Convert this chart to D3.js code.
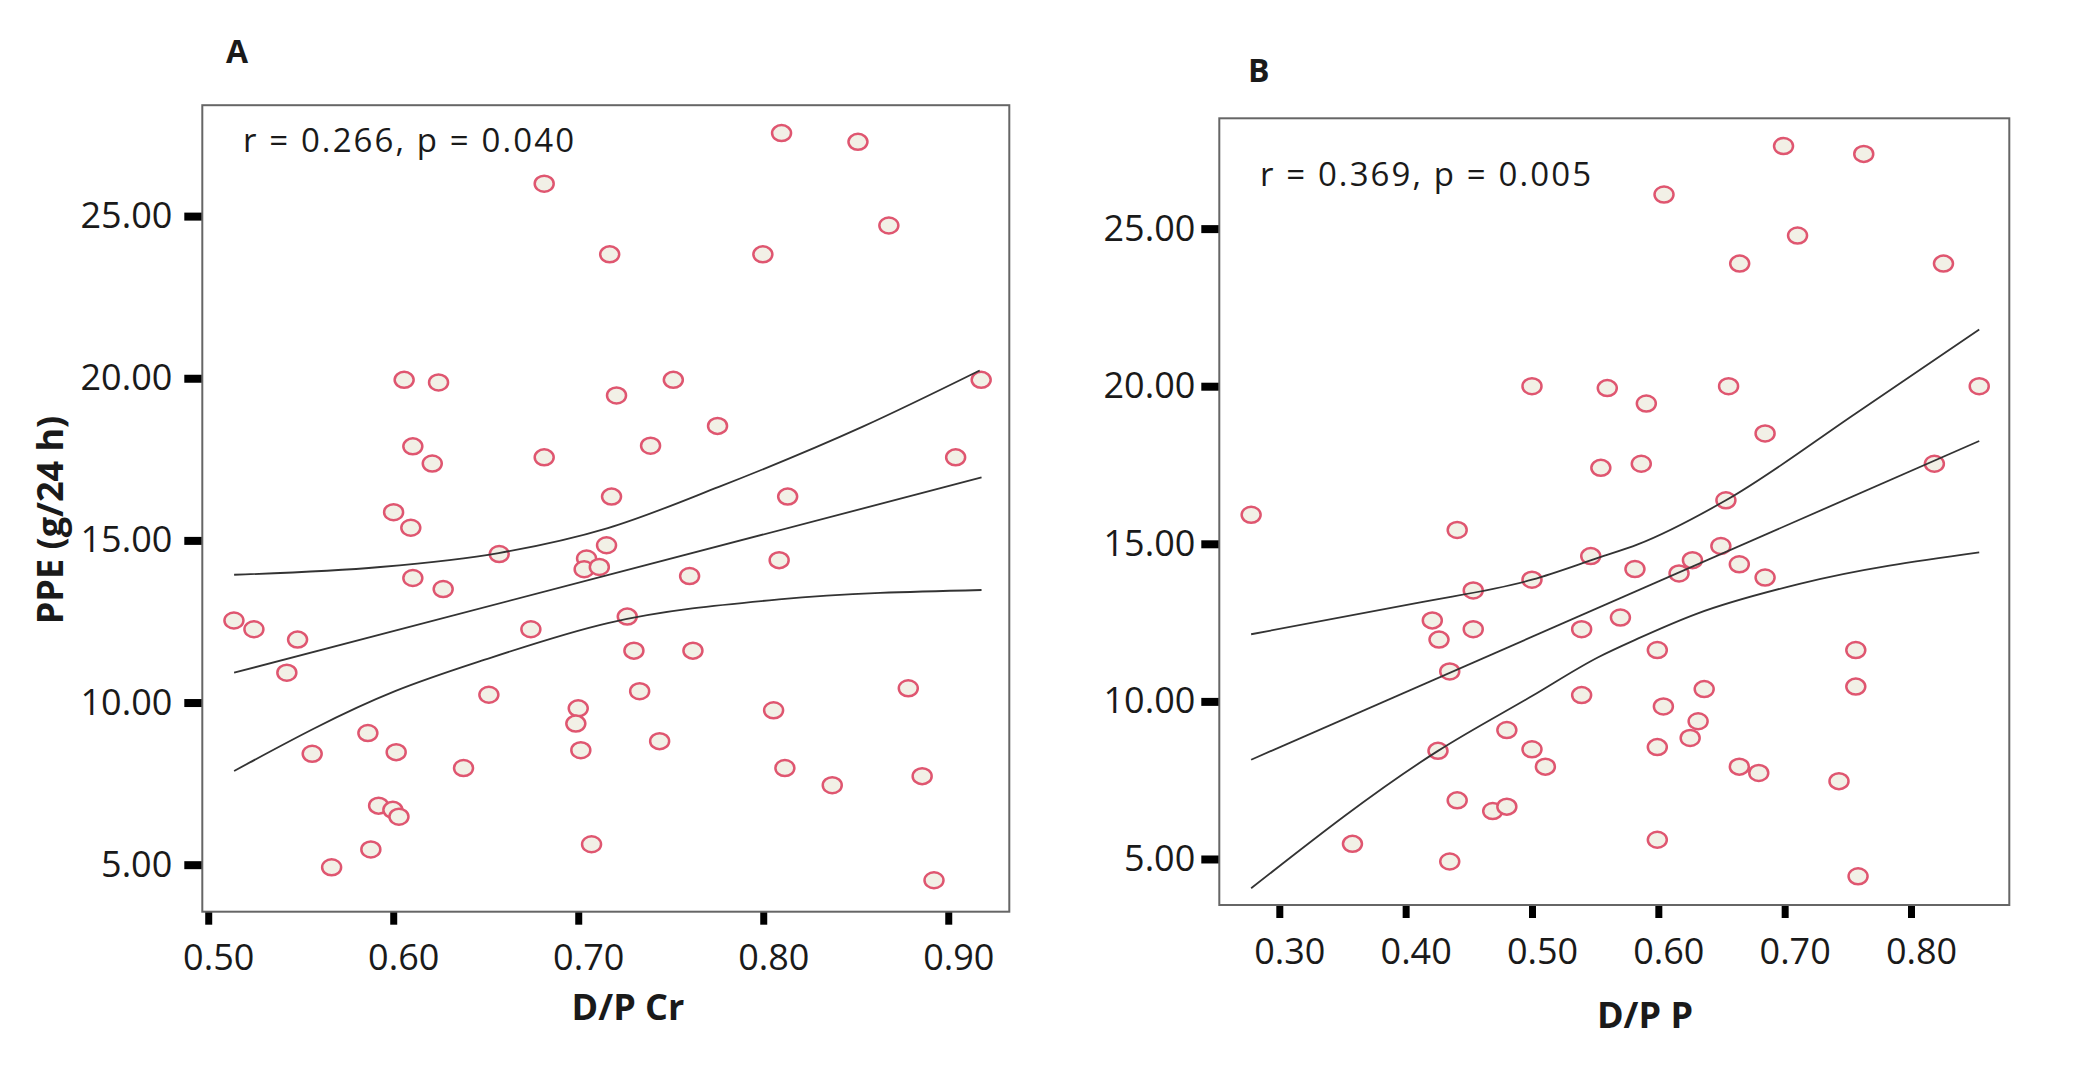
<!DOCTYPE html>
<html>
<head>
<meta charset="utf-8">
<script src="https://cdn.jsdelivr.net/npm/d3@7"></script>
<style>
  body { margin: 0; background: #fff; }
  text { font-family: "Open Sans", "Noto Sans", sans-serif; fill: #1a1a1a; }
</style>
</head>
<body>
<svg width="2096" height="1067"></svg>
<script>
// ---- panel A : D/P Cr vs PPE ----
var dpCr = [0.6816,0.717,0.6059,0.6245,0.7207,0.6106,0.6211,0.6816,0.718,0.6002,
            0.6095,0.6573,0.7045,0.7153,0.7032,0.7114,0.6106,0.627,0.5139,0.5247,
            0.5483,0.5425,0.6744,0.6517,0.700,0.6987,0.7014,0.5562,0.5863,0.6016,
            0.638,0.5921,0.5998,0.6031,0.5879,0.5667,0.7072,0.8099,0.8512,0.8679,
            0.7998,0.7514,0.9178,0.7753,0.7391,0.904,0.8132,0.8086,0.7602,0.7265,
            0.7301,0.762,0.7332,0.8784,0.8056,0.744,0.8117,0.8373,0.8859,0.8923];
var ppeA = [26.0,23.82,19.95,19.87,19.47,17.90,17.37,17.56,16.35,15.87,
            15.39,14.58,14.44,14.85,14.11,14.18,13.84,13.50,12.53,12.26,
            11.94,10.92,12.26,10.24,9.82,9.35,8.53,8.42,9.06,8.47,
            7.98,6.82,6.69,6.48,5.47,4.92,5.63,27.56,27.29,24.71,
            23.82,19.95,19.95,18.53,17.92,17.56,16.35,14.39,13.90,12.65,
            11.60,11.60,10.35,10.44,9.76,8.81,7.98,7.45,7.73,4.52];
// fit line and 95% CI
var fitA_x = [0.514,0.918], fitA_y = [10.92,16.94];
var upA_x = [0.514,0.593,0.657,0.716,0.776,0.8535,0.917];
var upA_y = [13.94,14.18,14.61,15.38,16.65,18.5,20.24];
var loA_x = [0.514,0.601,0.6495,0.716,0.8085,0.918];
var loA_y = [7.89,10.35,11.32,12.45,13.18,13.47];

// ---- panel B : D/P P vs PPE ----
var dpP = [0.2777,0.4408,0.500,0.5596,0.5545,0.5865,0.5465,0.500,0.4535,0.4211,
           0.4264,0.4535,0.4349,0.5393,0.570,0.5815,0.5393,0.4801,0.4256,0.500,
           0.5106,0.4408,0.4689,0.4801,0.3579,0.4349,0.6991,0.7626,0.6045,0.7102,
           0.6644,0.8257,0.5905,0.6556,0.854,0.6845,0.8185,0.6535,0.6495,0.627,
           0.6164,0.6641,0.6845,0.5992,0.7563,0.7563,0.6363,0.604,0.6315,0.6252,
           0.5992,0.6641,0.6795,0.743,0.5992,0.7581];
var ppeB = [15.92,15.44,20.00,19.94,17.41,17.54,14.61,13.86,13.52,12.57,
            11.96,12.29,10.95,12.29,12.66,14.20,10.20,9.09,8.43,8.48,
            7.93,6.86,6.52,6.66,5.48,4.92,27.62,27.37,26.08,24.78,
            23.89,23.89,19.45,20.00,20.00,18.50,17.54,16.38,14.93,14.48,
            14.06,14.35,13.93,11.63,11.63,10.47,10.39,9.84,9.37,8.84,
            8.55,7.93,7.73,7.47,5.61,4.45];
var fitB_x = [0.2777,0.854], fitB_y = [8.15,18.26];
var upB_x = [0.2777,0.4084,0.5,0.5528,0.5837,0.6535,0.7568,0.854];
var upB_y = [12.13,13.12,13.86,14.56,14.98,16.38,19.15,21.80];
var loB_x = [0.2777,0.4256,0.5,0.5528,0.5837,0.6297,0.7118,0.854];
var loB_y = [4.07,8.43,10.17,11.41,11.99,12.77,13.73,14.73];

var yTicks = [5,10,15,20,25];
var xTicksA = [0.5,0.6,0.7,0.8,0.9];
var xTicksB = [0.3,0.4,0.5,0.6,0.7,0.8];

var svg = d3.select("svg");
var fmt = d3.format(".2f");

function zip(xs, ys) {
    return xs.map(function(d,i){ return [d, ys[i]]; });
}

function drawPanel(o) {
    var x = d3.scaleLinear().domain(o.xDomain).range([o.left, o.right]);
    var y = d3.scaleLinear().domain(o.yDomain).range([o.bottom, o.top]);
    var g = svg.append("g");

    //坐标轴
    var yAxis = d3.axisLeft(y).tickValues(yTicks).tickFormat(fmt)
        .tickSize(18).tickPadding(o.yPad);
    var gy = g.append("g").attr("transform","translate("+o.left+",0)").call(yAxis);
    var xAxis = d3.axisBottom(x).tickValues(o.xTicks).tickFormat(fmt)
        .tickSize(13).tickPadding(20);
    var gx = g.append("g").attr("transform","translate(0,"+o.bottom+")").call(xAxis);
    [gx, gy].forEach(function(a){
        a.select(".domain").remove();
        a.selectAll(".tick line").attr("stroke","#000");
        a.selectAll(".tick text").style("font-size","36px")
            .style("font-family","'Open Sans', sans-serif").attr("fill","#222");
    });
    gy.selectAll(".tick line").attr("stroke-width",8);
    gx.selectAll(".tick line").attr("stroke-width",7);
    gx.selectAll(".tick text").attr("dx",10);

    //边框
    g.append("rect")
        .attr("x",o.left).attr("y",o.top)
        .attr("width",o.right-o.left).attr("height",o.bottom-o.top)
        .attr("fill","none").attr("stroke","#666").attr("stroke-width",2);

    //散点
    g.selectAll(".pt")
        .data(zip(o.xs, o.ys))
        .enter()
        .append("ellipse")
        .attr("cx",function(d){ return x(d[0]); })
        .attr("cy",function(d){ return y(d[1]); })
        .attr("rx",9.5).attr("ry",8)
        .attr("fill","#f2f0e6")
        .attr("stroke","#df5670")
        .attr("stroke-width",2.5);

    //拟合线和置信区间
    var line = d3.line()
        .x(function(d){ return x(d[0]); })
        .y(function(d){ return y(d[1]); })
        .curve(d3.curveMonotoneX);
    o.lines.forEach(function(l){
        g.append("path")
            .attr("d",line(zip(l[0], l[1])))
            .attr("fill","none")
            .attr("stroke","#333")
            .attr("stroke-width",1.8);
    });

    //文字
    g.append("text")
        .attr("x",o.rx).attr("y",o.ry)
        .attr("textLength",331).attr("lengthAdjust","spacing")
        .style("font-size","33px")
        .text(o.rText);
    g.append("text")
        .attr("x",o.labX).attr("y",o.labY)
        .style("font-size","32px").style("font-weight","bold")
        .text(o.label);
    g.append("text")
        .attr("x",o.xtX).attr("y",o.xtY)
        .attr("text-anchor","middle")
        .style("font-size","36px").style("font-weight","bold")
        .text(o.xTitle);
}

drawPanel({
    xDomain:[0.4968,0.933], yDomain:[3.55,28.42],
    left:202.3, right:1009.3, top:105.2, bottom:911.7,
    xTicks:xTicksA, yPad:12,
    xs:dpCr, ys:ppeA,
    lines:[[fitA_x,fitA_y],[upA_x,upA_y],[loA_x,loA_y]],
    rText:"r = 0.266, p = 0.040", rx:243, ry:152,
    label:"A", labX:226, labY:63,
    xTitle:"D/P Cr", xtX:628, xtY:1020
});

drawPanel({
    xDomain:[0.2525,0.8778], yDomain:[3.54,28.50],
    left:1219.3, right:2009.3, top:118.3, bottom:905,
    xTicks:xTicksB, yPad:6,
    xs:dpP, ys:ppeB,
    lines:[[fitB_x,fitB_y],[upB_x,upB_y],[loB_x,loB_y]],
    rText:"r = 0.369, p = 0.005", rx:1260, ry:186,
    label:"B", labX:1248, labY:82,
    xTitle:"D/P P", xtX:1645, xtY:1028
});

// y轴标题
svg.append("text")
    .attr("transform","translate(63,520) rotate(-90)")
    .attr("text-anchor","middle")
    .style("font-size","36px").style("font-weight","bold")
    .text("PPE (g/24 h)");
</script>
</body>
</html>
